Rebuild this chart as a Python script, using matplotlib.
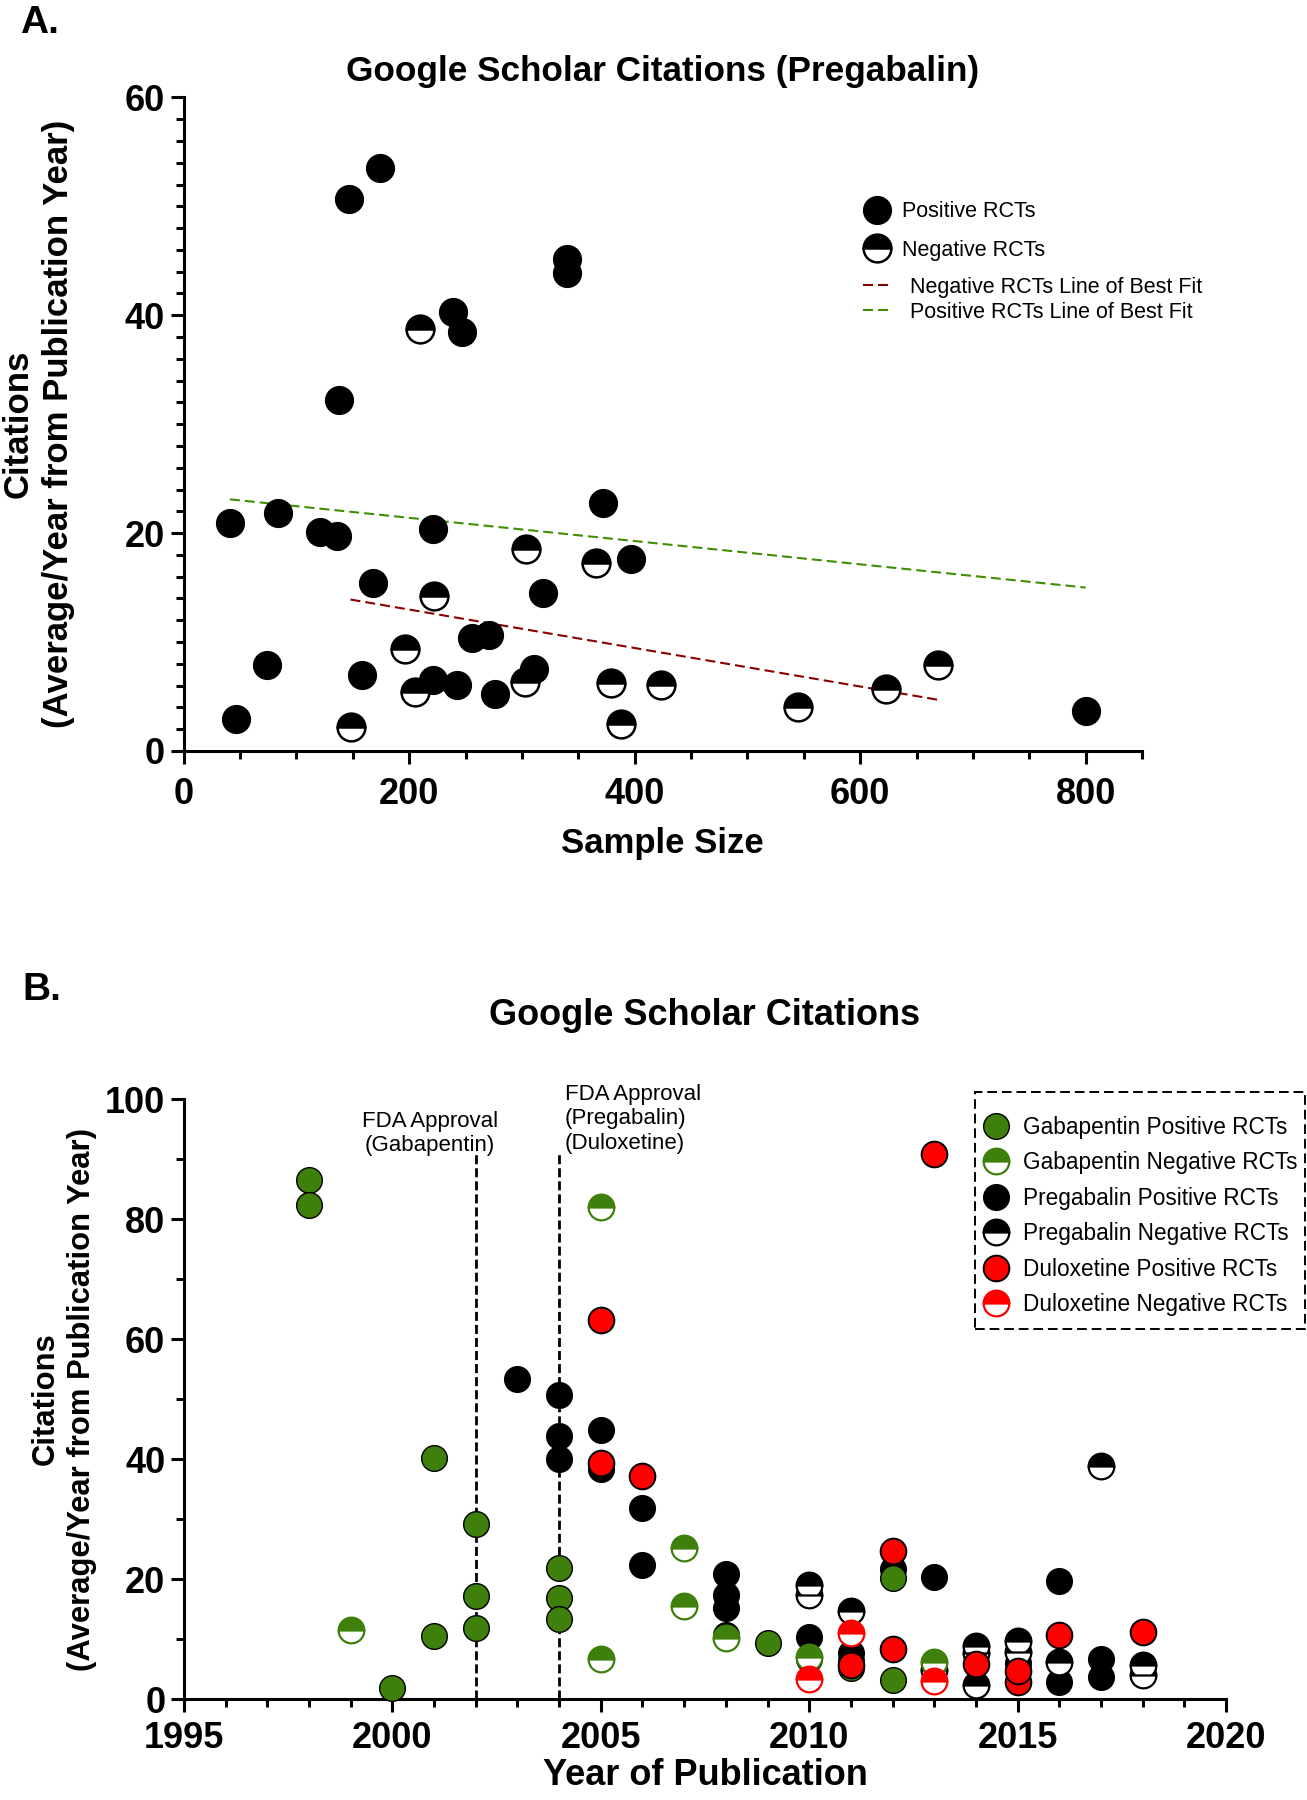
import matplotlib
matplotlib.use('Agg')
import matplotlib.pyplot as plt
from matplotlib.patches import Rectangle
from matplotlib.ticker import MultipleLocator

plt.rcParams['font.family'] = ['Liberation Sans', 'DejaVu Sans']
plt.rcParams['font.weight'] = 'bold'
plt.rcParams['axes.labelweight'] = 'bold'
plt.rcParams['axes.titleweight'] = 'bold'

GREEN = '#3f7f0c'
RED = '#ff0000'

# ---- panel A: sample size vs citations (pregabalin) ----
pos_n = [41, 46, 74, 84, 121, 136, 138, 147, 158, 168, 174, 221, 221, 239,
         242, 247, 256, 271, 276, 311, 319, 340, 340, 372, 397, 800]
pos_cit = [20.9, 2.9, 7.9, 21.8, 20.1, 19.7, 32.2, 50.7, 7.0, 15.4, 53.5, 20.4,
           6.5, 40.3, 6.1, 38.5, 10.4, 10.6, 5.2, 7.5, 14.5, 45.2, 43.9, 22.8,
           17.6, 3.7]
neg_n = [148, 196, 205, 210, 222, 303, 304, 366, 379, 388, 423, 545, 623, 669]
neg_cit = [2.2, 9.4, 5.4, 38.7, 14.2, 6.3, 18.5, 17.3, 6.2, 2.5, 6.1, 4.0, 5.7, 7.9]

# best-fit lines as drawn in the figure (end points)
fit_pos_x = [41, 800]
fit_pos_y = [23.1, 15.0]
fit_neg_x = [148, 669]
fit_neg_y = [13.9, 4.7]

# ---- panel B: year of publication vs citations ----
gaba_pos_yr = [1998, 1998, 2000, 2001, 2001, 2002, 2002, 2002, 2004, 2004, 2004,
               2009, 2011, 2012, 2012]
gaba_pos_cit = [86.5, 82.3, 1.9, 40.2, 10.5, 29.1, 17.2, 11.9, 21.8, 16.8, 13.4,
                9.3, 5.2, 20.2, 3.1]
gaba_neg_yr = [1999, 2005, 2005, 2007, 2007, 2008, 2010, 2013]
gaba_neg_cit = [11.5, 82.0, 6.7, 25.1, 15.5, 10.1, 7.0, 6.1]

preg_pos_yr = [2003, 2004, 2004, 2004, 2005, 2005, 2006, 2006, 2008, 2008, 2008,
               2008, 2010, 2010, 2011, 2011, 2012, 2013, 2015, 2016, 2016, 2017, 2017]
preg_pos_cit = [53.4, 50.6, 43.9, 40.0, 44.8, 38.3, 31.9, 22.4, 20.8, 17.3, 15.2,
                10.7, 10.4, 6.6, 7.6, 6.4, 21.7, 20.4, 6.0, 19.7, 2.9, 6.6, 3.7]
preg_neg_yr = [2010, 2010, 2011, 2013, 2014, 2014, 2014, 2015, 2015, 2016, 2017,
               2018, 2018]
preg_neg_cit = [19.0, 17.3, 14.6, 4.9, 8.8, 7.7, 2.3, 9.7, 7.9, 6.2, 38.8, 5.7, 4.0]

dulo_pos_yr = [2005, 2005, 2006, 2011, 2012, 2012, 2013, 2014, 2015, 2015, 2016, 2018]
dulo_pos_cit = [63.2, 39.4, 37.2, 5.7, 24.7, 8.3, 90.8, 5.9, 2.8, 4.7, 10.6, 11.1]
dulo_neg_yr = [2010, 2011, 2013]
dulo_neg_cit = [3.4, 11.0, 3.0]

fda_years = [2002, 2004]
fda_top = 91


def style_axes(ax, xpad):
    ax.spines['top'].set_visible(False)
    ax.spines['right'].set_visible(False)
    ax.spines['left'].set_linewidth(2.2)
    ax.spines['bottom'].set_linewidth(2.2)
    ax.tick_params(which='major', length=9.5, width=2.2, labelsize=26)
    ax.tick_params(which='minor', length=5.5, width=2.2)
    ax.tick_params(axis='x', which='both', pad=xpad)
    ax.tick_params(axis='y', which='both', pad=4)


fig = plt.figure(figsize=(13.07, 18.0), dpi=100)

# ================= Panel A =================
axA = fig.add_axes([0.1405, 0.5828, 0.7333, 0.3631])
axA.set_xlim(0, 850)
axA.set_ylim(0, 60)
axA.xaxis.set_major_locator(MultipleLocator(200))
axA.xaxis.set_minor_locator(MultipleLocator(50))
axA.yaxis.set_major_locator(MultipleLocator(20))
axA.yaxis.set_minor_locator(MultipleLocator(2))
style_axes(axA, 9)

l_negfit, = axA.plot(fit_neg_x, fit_neg_y, color='#8b0000', lw=1.5,
                     linestyle=(0, (4.8, 2.4)), zorder=2)
l_posfit, = axA.plot(fit_pos_x, fit_pos_y, color='#3f8f00', lw=1.5,
                     linestyle=(0, (4.8, 2.4)), zorder=2)
h_pos, = axA.plot(pos_n, pos_cit, linestyle='none', marker='o', ms=20,
                  mfc='black', mec='black', mew=1.0, clip_on=False, zorder=3)
h_neg, = axA.plot(neg_n, neg_cit, linestyle='none', marker='o', ms=20,
                  fillstyle='top', mfc='black', mfcalt='white', mec='black',
                  mew=1.8, clip_on=False, zorder=3)

axA.set_title('Google Scholar Citations (Pregabalin)', fontsize=25.3, pad=12)
axA.set_xlabel('Sample Size', fontsize=25)
axA.set_ylabel('Citations\n(Average/Year from Publication Year)', fontsize=25,
               linespacing=1.28)
axA.xaxis.set_label_coords(0.5, -0.116)
axA.yaxis.set_label_coords(-0.113, 0.5)

legA1 = axA.legend([h_pos, h_neg], ['Positive RCTs', 'Negative RCTs'],
                   loc='upper left', bbox_to_anchor=(0.7097, 0.841),
                   frameon=False, borderpad=0, borderaxespad=0,
                   handlelength=1.2, handletextpad=0.58, labelspacing=0.82,
                   prop={'size': 15.5, 'weight': 'normal'})
axA.add_artist(legA1)
axA.legend([l_negfit, l_posfit],
           ['Negative RCTs Line of Best Fit', 'Positive RCTs Line of Best Fit'],
           loc='upper left', bbox_to_anchor=(0.7089, 0.7255),
           frameon=False, borderpad=0, borderaxespad=0,
           handlelength=1.4, handletextpad=0.8, labelspacing=0.18,
           prop={'size': 15.5, 'weight': 'normal'})

# ================= Panel B =================
axB = fig.add_axes([0.1408, 0.0561, 0.7972, 0.3333])
axB.set_xlim(1995, 2020)
axB.set_ylim(0, 100)
axB.xaxis.set_major_locator(MultipleLocator(5))
axB.xaxis.set_minor_locator(MultipleLocator(1))
axB.yaxis.set_major_locator(MultipleLocator(20))
axB.yaxis.set_minor_locator(MultipleLocator(10))
style_axes(axB, 6)

axB.vlines(fda_years, 0, fda_top, colors='black', lw=2.0,
           linestyles=[(0, (3.25, 1.45))], zorder=2)
axB.text(2000.9, 94.3, 'FDA Approval\n(Gabapentin)', ha='center', va='center',
         fontsize=16, fontweight='normal')
axB.text(2004.14, 96.7, 'FDA Approval\n(Pregabalin)\n(Duloxetine)', ha='left',
         va='center', fontsize=16, fontweight='normal', clip_on=False)

msB = 18.5
h_pp, = axB.plot(preg_pos_yr, preg_pos_cit, linestyle='none', marker='o', ms=msB,
                 mfc='black', mec='black', mew=1.0, clip_on=False, zorder=3)
h_pn, = axB.plot(preg_neg_yr, preg_neg_cit, linestyle='none', marker='o', ms=msB,
                 fillstyle='top', mfc='black', mfcalt='white', mec='black',
                 mew=1.6, clip_on=False, zorder=3)
h_gp, = axB.plot(gaba_pos_yr, gaba_pos_cit, linestyle='none', marker='o', ms=msB,
                 mfc=GREEN, mec='black', mew=1.0, clip_on=False, zorder=3)
h_gn, = axB.plot(gaba_neg_yr, gaba_neg_cit, linestyle='none', marker='o', ms=msB,
                 fillstyle='top', mfc=GREEN, mfcalt='white', mec=GREEN,
                 mew=1.6, clip_on=False, zorder=3)
h_dp, = axB.plot(dulo_pos_yr, dulo_pos_cit, linestyle='none', marker='o', ms=msB,
                 mfc=RED, mec='black', mew=1.4, clip_on=False, zorder=3)
h_dn, = axB.plot(dulo_neg_yr, dulo_neg_cit, linestyle='none', marker='o', ms=msB,
                 fillstyle='top', mfc=RED, mfcalt='white', mec=RED,
                 mew=1.6, clip_on=False, zorder=3)

axB.set_title('Google Scholar Citations', fontsize=26, pad=53)
axB.set_xlabel('Year of Publication', fontsize=26)
axB.set_ylabel('Citations\n(Average/Year from Publication Year)', fontsize=22.3,
               linespacing=1.28)
axB.xaxis.set_label_coords(0.5, -0.098)
axB.yaxis.set_label_coords(-0.0835, 0.5)

axB.legend([h_gp, h_gn, h_pp, h_pn, h_dp, h_dn],
           ['Gabapentin Positive RCTs', 'Gabapentin Negative RCTs',
            'Pregabalin Positive RCTs', 'Pregabalin Negative RCTs',
            'Duloxetine Positive RCTs', 'Duloxetine Negative RCTs'],
           loc='upper left', bbox_to_anchor=(0.7662, 0.972),
           frameon=False, borderpad=0, borderaxespad=0,
           handlelength=1.2, handletextpad=0.6, labelspacing=0.55,
           prop={'size': 16.3, 'weight': 'normal'})
fig.add_artist(Rectangle((0.746, 0.2617), 0.2525, 0.1317,
                         transform=fig.transFigure, fill=False, lw=1.4,
                         edgecolor='black', linestyle=(0, (5, 2.5))))

# panel letters
fig.text(0.0153, 1 - 33 / 1800, 'A.', fontsize=28, va='baseline')
fig.text(0.0168, 1 - 1000 / 1800, 'B.', fontsize=28, va='baseline')

fig.savefig('out.png', dpi=100)
